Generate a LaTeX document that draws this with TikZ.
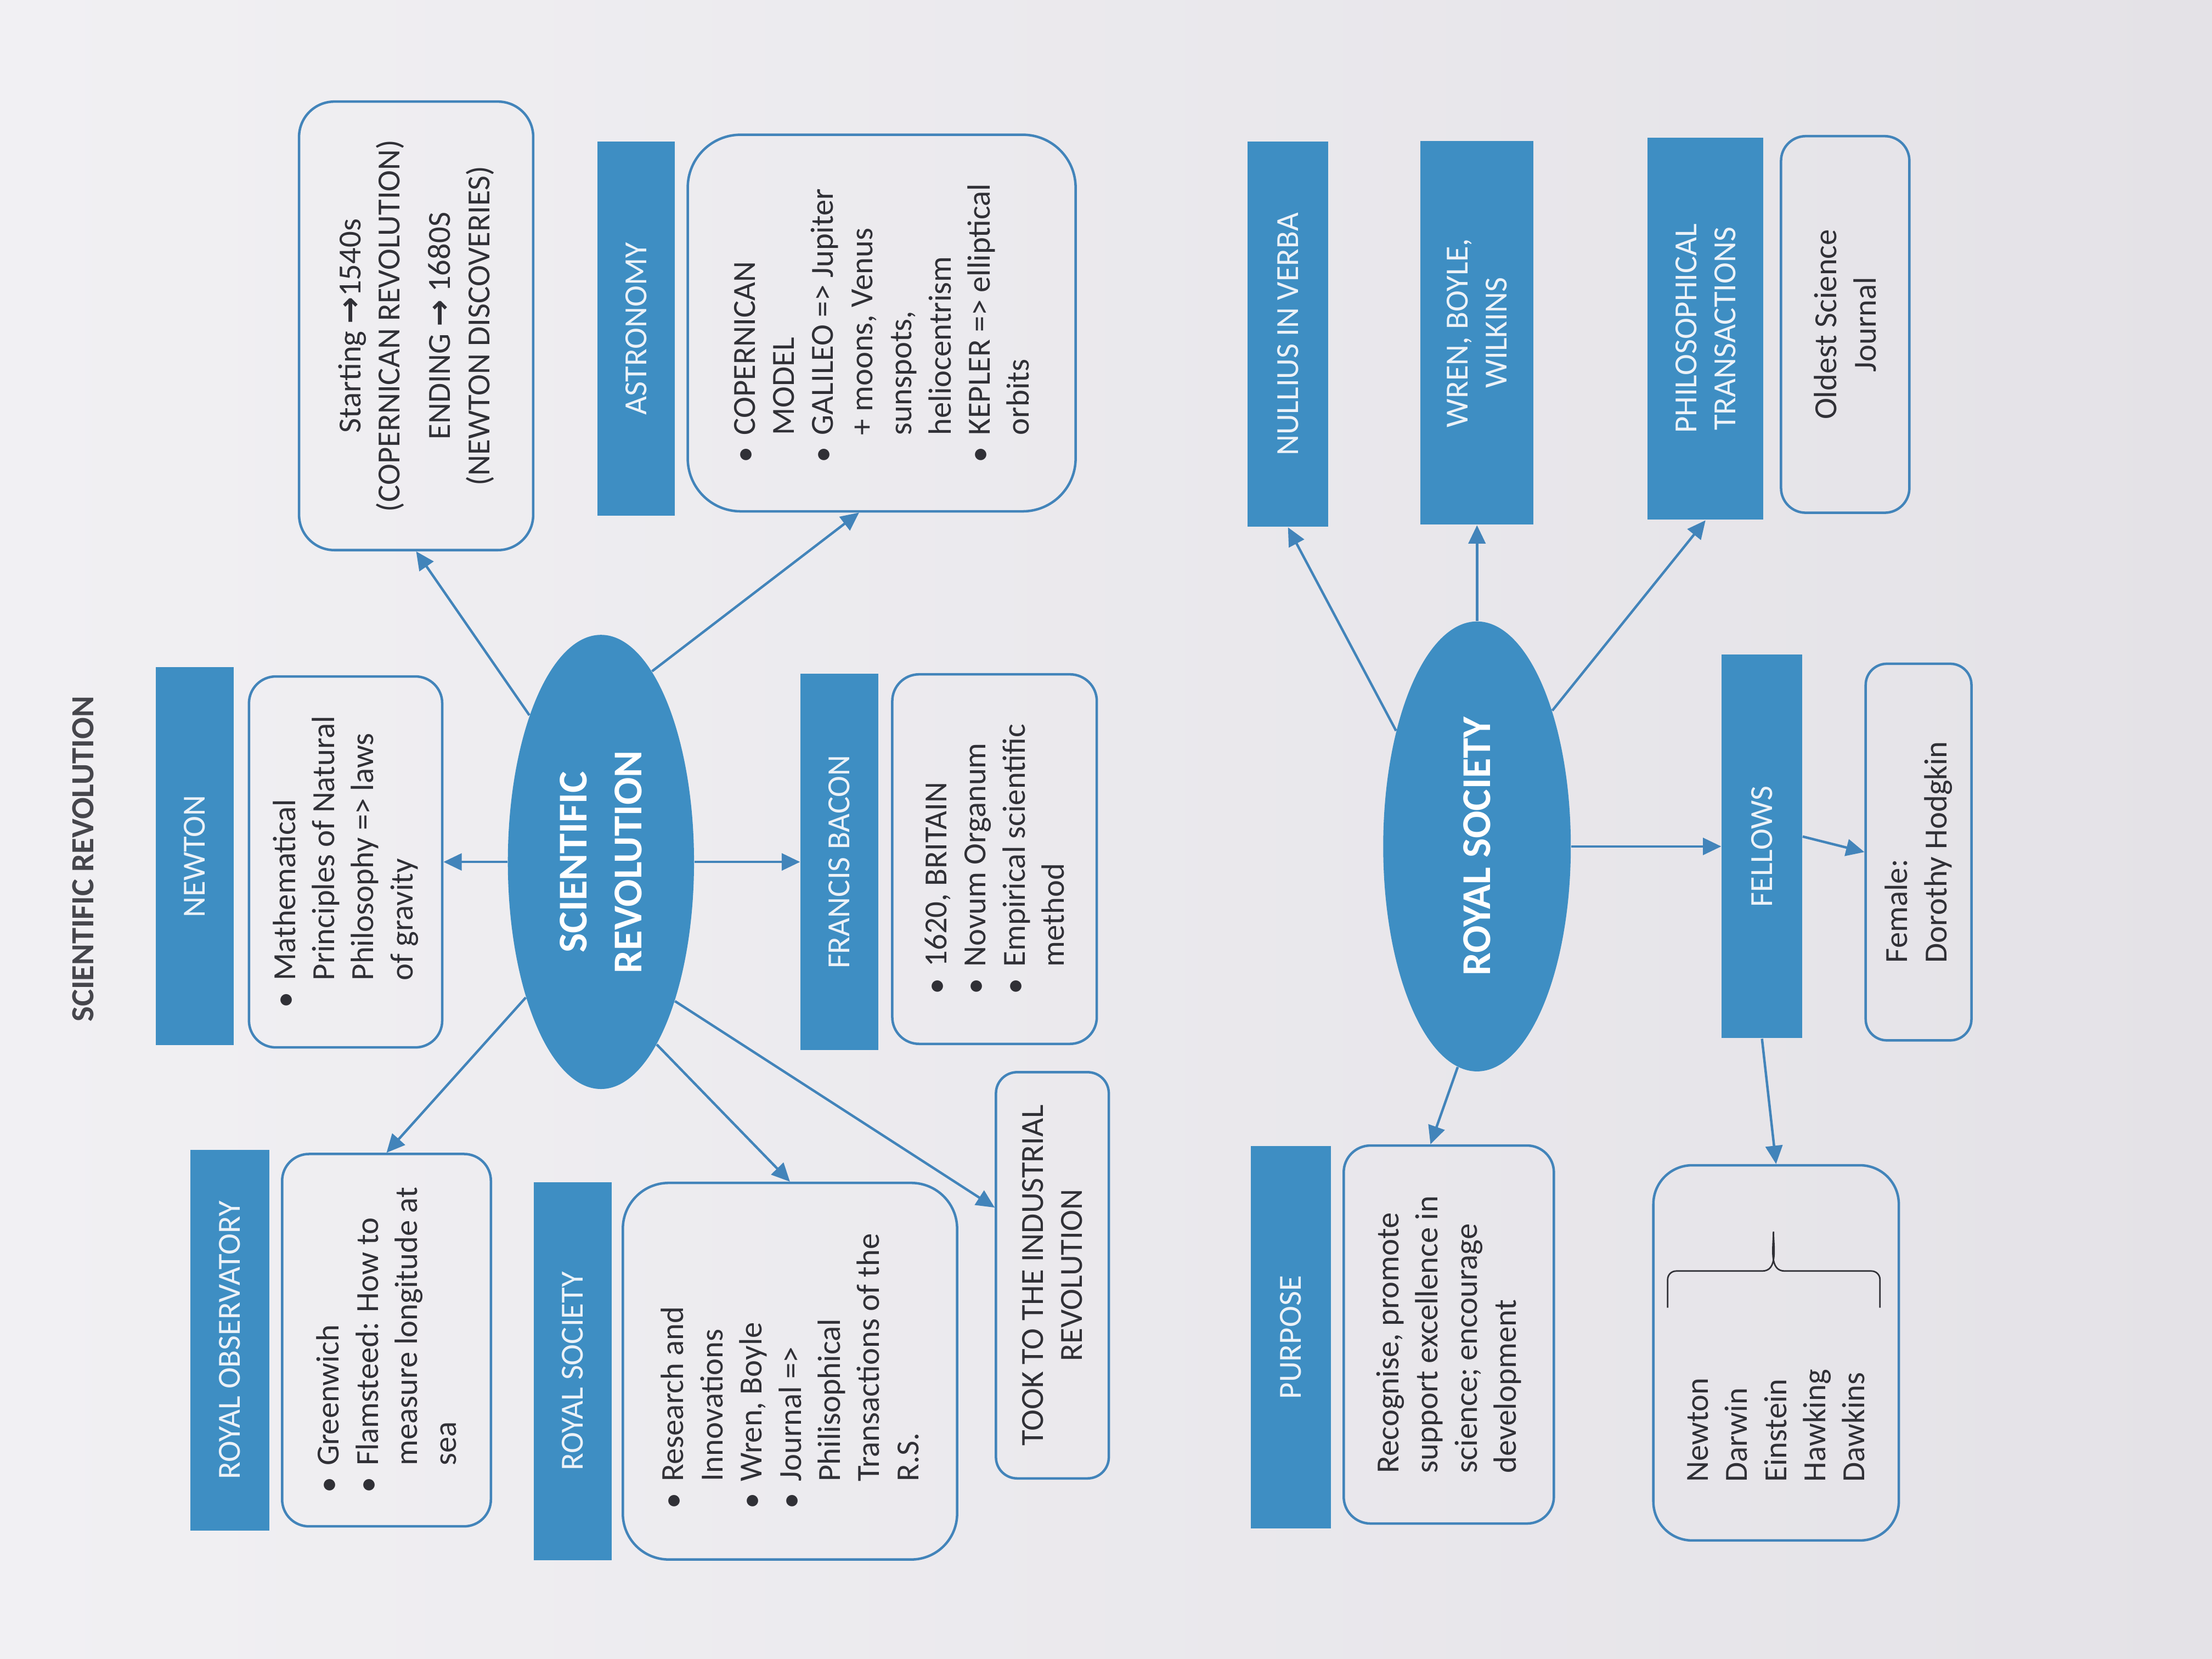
\documentclass[tikz,border=0pt]{standalone}
\usepackage{fontspec}
\setmainfont{Carlito}
\newfontfamily\arrowfont{DejaVu Sans}
\usetikzlibrary{shapes.geometric, arrows.meta, calc}
\definecolor{paperlt}{RGB}{241,240,243}
\definecolor{paperdk}{RGB}{228,226,231}
\definecolor{smartblue}{RGB}{62,142,195}
\definecolor{edgeblue}{RGB}{66,132,186}
\definecolor{ink}{RGB}{48,48,54}
\definecolor{capwhite}{RGB}{236,242,248}
\definecolor{titlegray}{RGB}{70,70,76}
\newcommand{\itemdot}{\makebox[0.85em][l]{\textbullet}}
\newcommand{\itemgap}{\hspace*{0.85em}}
\newcommand{\rarr}{{\arrowfont\bfseries →}}

\begin{document}
\begin{tikzpicture}[x=0.02cm, y=0.02cm,
  hd/.style={fill=smartblue, text=capwhite, inner sep=0pt, align=center, font=\fontsize{13}{15.8}\selectfont},
  bx/.style={draw=edgeblue, line width=1pt, rounded corners=0.38cm, text=ink, inner sep=0pt, align=left, font=\fontsize{13}{15.8}\selectfont},
  hub/.style={ellipse, fill=smartblue, text=white, inner sep=0pt, align=center, font=\bfseries\fontsize{16.5}{22}\selectfont},
  link/.style={draw=edgeblue, line width=1pt, -{Triangle[length=0.26cm, width=0.24cm]}},
  wh/.style 2 args={minimum width=#1cm, minimum height=#2cm}]
  \shade[left color=paperlt, right color=paperdk] (-1568,0) rectangle (0,1176);
  \useasboundingbox (-1568,0) rectangle (0,1176);
  \begin{scope}[rotate=90, transform shape]
  \node[text=titlegray, font=\bfseries\fontsize{13}{15}\selectfont] (title) at (567,1509) {SCIENTIFIC REVOLUTION};

  \node[hd, wh={5.36}{1.1}] (newtonhd) at (569,1430) {NEWTON};
  \node[bx, wh={5.26}{2.74}] (newtonbox) at (565,1323) {\itemdot Mathematical\\\itemgap Principles of Natural\\\itemgap Philosophy => laws\\\itemgap of gravity};
  \node[hd, wh={5.4}{1.12}] (obshd) at (226,1405) {ROYAL OBSERVATORY};
  \node[bx, wh={5.28}{2.96}] (obsbox) at (226,1294) {\itemdot Greenwich\\\itemdot Flamsteed: How to\\\itemgap measure longitude at\\\itemgap sea};
  \node[hub, wh={6.44}{2.64}] (scirev) at (565,1142) {SCIENTIFIC\\REVOLUTION};
  \node[bx, align=center, rounded corners=0.5cm, wh={6.36}{3.32}] (timebox) at (945,1273) {Starting \rarr1540s\\(COPERNICAN REVOLUTION)\\[0.16cm]ENDING \rarr\ 1680S\\(NEWTON DISCOVERIES)};
  \node[hd, wh={5.3}{1.1}] (astrohd) at (943,1117) {ASTRONOMY};
  \node[bx, rounded corners=0.75cm, wh={5.34}{5.5}] (astrobox) at (947,943) {\itemdot COPERNICAN\\\itemgap MODEL\\\itemdot GALILEO => Jupiter\\\itemgap + moons, Venus\\\itemgap sunspots,\\\itemgap heliocentrism\\\itemdot KEPLER => elliptical\\\itemgap orbits};
  \node[hd, wh={5.36}{1.1}] (rshd) at (204,1162) {ROYAL SOCIETY};
  \node[bx, rounded corners=0.65cm, wh={5.34}{4.74}] (rsbox) at (204,1008) {\itemdot Research and\\\itemgap Innovations\\\itemdot Wren, Boyle\\\itemdot Journal =>\\\itemgap Philisophical\\\itemgap Transactions of the\\\itemgap R.S.};
  \node[hd, wh={5.34}{1.1}] (baconhd) at (565,973) {FRANCIS BACON};
  \node[bx, wh={5.24}{2.9}] (baconbox) at (567,863) {\itemdot 1620, BRITAIN\\\itemdot Novum Organum\\\itemdot Empirical scientific\\\itemgap method};
  \node[bx, align=center, rounded corners=0.3cm, wh={5.76}{1.6}] (industry) at (272,822) {TOOK TO THE INDUSTRIAL\\REVOLUTION};

  \node[hub, wh={6.38}{2.66}] (royal) at (576,521) {ROYAL SOCIETY};
  \node[hd, wh={5.46}{1.14}] (nullius) at (939,655) {NULLIUS IN VERBA};
  \node[hd, wh={5.44}{1.6}] (wren) at (940,521) {WREN, BOYLE,\\WILKINS};
  \node[hd, wh={5.42}{1.64}] (philtr) at (943,359) {PHILOSOPHICAL\\TRANSACTIONS};
  \node[bx, align=center, rounded corners=0.35cm, wh={5.34}{1.82}] (oldest) at (946,260) {Oldest Science\\Journal};
  \node[hd, wh={5.44}{1.14}] (fellows) at (576,319) {FELLOWS};
  \node[bx, rounded corners=0.3cm, wh={5.34}{1.5}] (female) at (572,208) {Female:\\Dorothy Hodgkin};
  \node[hd, wh={5.42}{1.14}] (purposehd) at (228,653) {PURPOSE};
  \node[bx, wh={5.36}{2.98}] (purposebox) at (230,541) {Recognise, promote\\support excellence in\\science; encourage\\development};
  \node[bx, rounded corners=0.55cm, wh={5.32}{3.48}] (fellowlist) at (217,309) {};
  \node[text=ink, align=left, anchor=west, inner sep=0pt, font=\fontsize{13}{15.8}\selectfont] (names) at ($(fellowlist.west)+(42,0)$) {Newton\\Darwin\\Einstein\\Hawking\\Dawkins};
  \coordinate (bracetop) at ($(fellowlist.north)+(32,-11)$);
  \draw[ink, line width=0.6pt] (bracetop) -- ++(20,0) to[out=0, in=90] ++(6,-6) -- ++(0,-61)
    to[out=-90, in=180] ++(28,-8) to[out=180, in=90] ++(-28,-8) -- ++(0,-61.5)
    to[out=-90, in=0] ++(-6,-6) -- ++(-20,0);

  \draw[link] (scirev) -- (newtonbox);
  \draw[link] (scirev) -- (baconhd);
  \draw[link] (scirev.151) -- (obsbox.east);
  \draw[link] (scirev.197) -- (rsbox.east);
  \draw[link] (scirev.208) -- ($(industry.north)+(48,0)$);
  \draw[link] (scirev.26) -- (timebox.west);
  \draw[link] (scirev.345) -- ($(astrobox.west)+(0,16)$);
  \draw[link] (royal.35) -- (nullius.west);
  \draw[link] (royal) -- (wren);
  \draw[link] (royal.331) -- (philtr.west);
  \draw[link] (royal) -- (fellows);
  \draw[link] ($(fellows.south)+(7,0)$) -- (female.north);
  \draw[link] (fellows.west) -- (fellowlist.east);
  \draw[link] (royal.175) -- ($(purposebox.east)+(0,13)$);
  \end{scope}
\end{tikzpicture}
\end{document}
